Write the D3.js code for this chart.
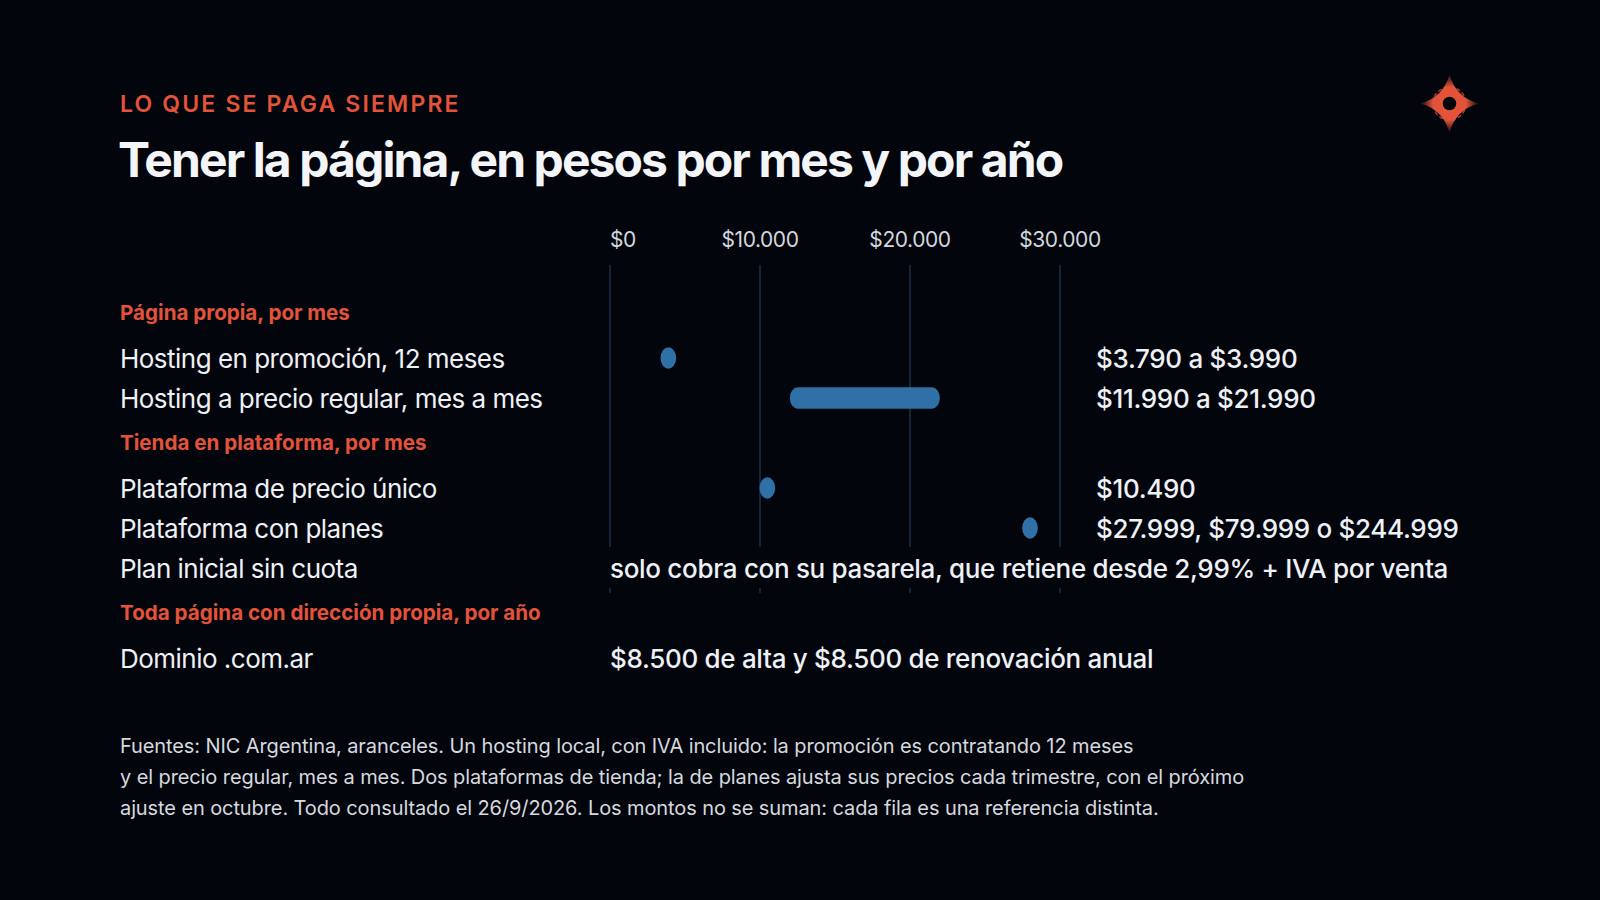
<!DOCTYPE html>
<html>
<head>
<meta charset="utf-8">
<script src="https://cdn.jsdelivr.net/npm/d3@7/dist/d3.min.js"></script>
<style>
  html, body { margin: 0; padding: 0; background: #03050d; }
  svg { display: block; }
  text { font-family: Inter, "Noto Sans", sans-serif; }
</style>
</head>
<body>
<svg id="chart" width="1600" height="900"></svg>
<script>
// ---------- data ----------
const eyebrow = "LO QUE SE PAGA SIEMPRE";
const title = "Tener la página, en pesos por mes y por año";
const sectionNames = [
  "Página propia, por mes",
  "Tienda en plataforma, por mes",
  "Toda página con dirección propia, por año"
];
const rowLabels = [
  "Hosting en promoción, 12 meses",
  "Hosting a precio regular, mes a mes",
  "Plataforma de precio único",
  "Plataforma con planes",
  "Plan inicial sin cuota",
  "Dominio .com.ar"
];
const rowSection = [0, 0, 1, 1, 1, 2];
const lowValues  = [3790, 11990, 10490, 27999, null, null];
const highValues = [3990, 21990, 10490, 27999, null, null];
const valueLabels = ["$3.790 a $3.990", "$11.990 a $21.990", "$10.490", "$27.999, $79.999 o $244.999", null, null];
const noteLabels = [null, null, null, null,
  "solo cobra con su pasarela, que retiene desde 2,99% + IVA por venta",
  "$8.500 de alta y $8.500 de renovación anual"];
const tickValues = [0, 10000, 20000, 30000];
const tickLabels = ["$0", "$10.000", "$20.000", "$30.000"];
const footnoteLines = [
  "Fuentes: NIC Argentina, aranceles. Un hosting local, con IVA incluido: la promoción es contratando 12 meses",
  "y el precio regular, mes a mes. Dos plataformas de tienda; la de planes ajusta sus precios cada trimestre, con el próximo",
  "ajuste en octubre. Todo consultado el 26/9/2026. Los montos no se suman: cada fila es una referencia distinta."
];

// ---------- style ----------
const C = {
  bg: "#03050d",
  accent: "#e2533a",
  text: "#eef1f6",
  muted: "#d3d7de",
  grid: "#1a3044",
  mark: "#2f70a6"
};

const svg = d3.select("#chart");
svg.append("rect").attr("width", 1600).attr("height", 900).attr("fill", C.bg);

const left = 120;
const x = d3.scaleLinear().domain([0, 30000]).range([610, 1060]);

// vertical layout: headers and rows in sequence
const items = [];
let yCur = 312;
let prevSection = -1;
rowLabels.forEach((lab, i) => {
  if (rowSection[i] !== prevSection) {
    if (prevSection !== -1) yCur += 44;
    items.push({type: "header", text: sectionNames[rowSection[i]], y: yCur});
    yCur += 46;
    prevSection = rowSection[i];
  } else {
    yCur += 40;
  }
  items.push({type: "row", i, y: yCur});
});
const rows = items.filter(d => d.type === "row");
const headers = items.filter(d => d.type === "header");

// ---------- titles ----------
svg.append("text").attr("x", left).attr("y", 112)
  .attr("fill", C.accent).attr("font-size", 23).attr("font-weight", 600)
  .attr("letter-spacing", "0.094em").text(eyebrow);
svg.append("text").attr("x", left - 2).attr("y", 176.5)
  .attr("fill", "#f3f5f9").attr("font-size", 48).attr("font-weight", 700)
  .attr("letter-spacing", "-0.04em").text(title);

// ---------- grid ----------
const gridTop = 265, gridBottom = 593;
svg.append("g").selectAll("line").data(tickValues).join("line")
  .attr("x1", d => x(d)).attr("x2", d => x(d))
  .attr("y1", gridTop).attr("y2", gridBottom)
  .attr("stroke", C.grid).attr("stroke-width", 1.5);

svg.append("g").selectAll("text").data(tickValues).join("text")
  .attr("x", d => x(d)).attr("y", 247)
  .attr("text-anchor", (d, i) => i === 0 ? "start" : "middle")
  .attr("fill", C.muted).attr("font-size", 21).attr("letter-spacing", "-0.02em")
  .text((d, i) => tickLabels[i]);

// ---------- section headers ----------
svg.append("g").selectAll("text").data(headers).join("text")
  .attr("x", left).attr("y", d => d.y + 7.5)
  .attr("fill", C.accent).attr("font-size", 20.6).attr("font-weight", 700)
  .text(d => d.text);

// ---------- row labels ----------
svg.append("g").selectAll("text").data(rows).join("text")
  .attr("x", left).attr("y", d => d.y + 9.5)
  .attr("fill", C.text).attr("font-size", 26).attr("letter-spacing", "-0.02em")
  .text(d => rowLabels[d.i]);

// ---------- marks ----------
const markH = 21.5, minW = 15.7;
const markRows = rows.filter(d => lowValues[d.i] != null);
svg.append("g").selectAll("rect").data(markRows).join("rect")
  .attr("x", d => {
    const a = x(lowValues[d.i]), b = x(highValues[d.i]);
    const w = Math.max(b - a, minW);
    return (a + b) / 2 - w / 2;
  })
  .attr("width", d => Math.max(x(highValues[d.i]) - x(lowValues[d.i]), minW))
  .attr("y", d => d.y - markH / 2).attr("height", markH)
  .attr("rx", minW / 2).attr("ry", markH / 2)
  .attr("fill", C.mark);

// value labels
svg.append("g").selectAll("text").data(rows.filter(d => valueLabels[d.i])).join("text")
  .attr("x", x.range()[1] + 36).attr("y", d => d.y + 9.5)
  .attr("fill", C.text).attr("font-size", 26).attr("font-weight", 500)
  .attr("letter-spacing", "-0.012em")
  .text(d => valueLabels[d.i]);

// note rows (text across the plot, with background mask)
const noteRows = rows.filter(d => noteLabels[d.i]);
const noteG = svg.append("g");
noteRows.forEach(d => {
  noteG.append("rect").attr("x", x.range()[0] - 4).attr("y", d.y - 21)
    .attr("width", 470).attr("height", 41).attr("fill", C.bg);
  noteG.append("text").attr("x", x.range()[0]).attr("y", d.y + 9.5)
    .attr("fill", C.text).attr("font-size", 26).attr("font-weight", 500)
    .attr("letter-spacing", "-0.012em").text(noteLabels[d.i]);
});

// ---------- footnote ----------
svg.append("g").selectAll("text").data(footnoteLines).join("text")
  .attr("x", left).attr("y", (d, i) => 753 + i * 31)
  .attr("fill", "#d6d9df").attr("font-size", 20).attr("letter-spacing", "-0.005em")
  .text(d => d);

// ---------- logo ----------
const defs = svg.append("defs");
const grad = defs.append("radialGradient").attr("id", "starGrad")
  .attr("gradientUnits", "userSpaceOnUse").attr("cx", 0).attr("cy", 0).attr("r", 30);
grad.append("stop").attr("offset", "0%").attr("stop-color", C.accent).attr("stop-opacity", 1);
grad.append("stop").attr("offset", "55%").attr("stop-color", C.accent).attr("stop-opacity", 1);
grad.append("stop").attr("offset", "100%").attr("stop-color", C.accent).attr("stop-opacity", 0);

const logo = svg.append("g").attr("transform", "translate(1449.5,103.5)");
logo.append("circle").attr("r", 16.5).attr("fill", "none")
  .attr("stroke", C.accent).attr("stroke-width", 1.4).attr("stroke-opacity", 0.75)
  .attr("stroke-dasharray", "4 2.5");
logo.append("path")
  .attr("d", "M0,-29.5 Q6,-6 29.5,0 Q6,6 0,29.5 Q-6,6 -29.5,0 Q-6,-6 0,-29.5 Z")
  .attr("fill", "url(#starGrad)");
logo.append("circle").attr("r", 6.8).attr("fill", C.bg);
</script>
</body>
</html>
